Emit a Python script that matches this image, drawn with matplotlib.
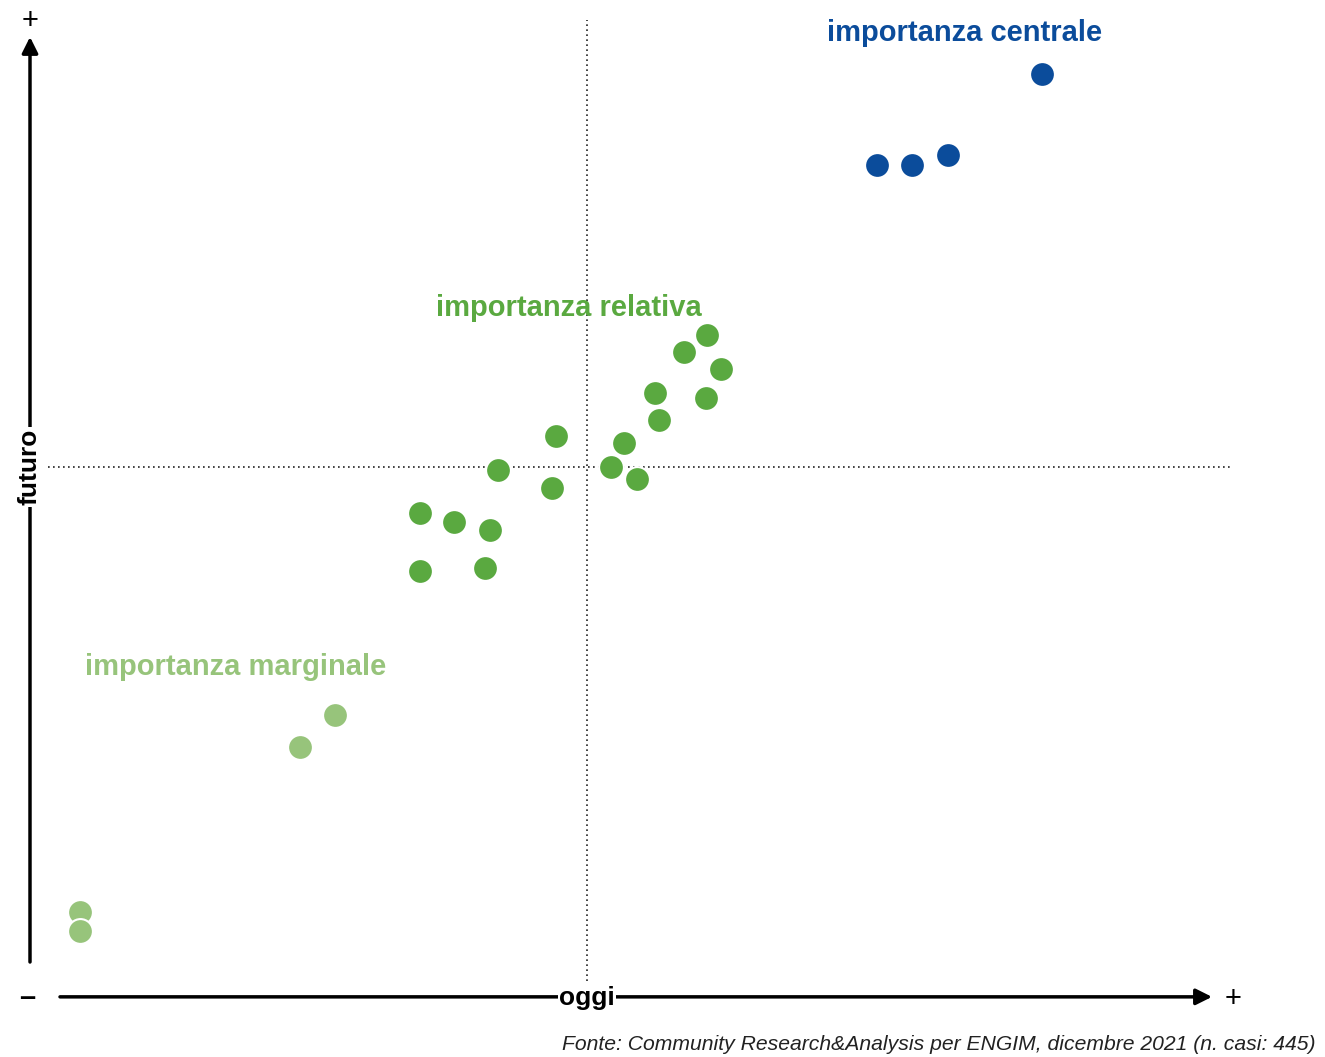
import matplotlib
matplotlib.use("Agg")
import matplotlib.pyplot as plt

plt.rcParams['font.family'] = ['Liberation Sans Narrow', 'Liberation Sans', 'DejaVu Sans']

# punteggi (0-100): oggi = asse x, futuro = asse y
centrale_oggi = [84.3, 70.6, 73.5, 76.5]
centrale_futuro = [94.3, 84.6, 84.6, 85.7]

relativa_oggi = [56.4, 54.5, 57.6, 52.1, 56.3, 52.4, 43.8, 49.5, 39.0, 48.4,
                 50.6, 43.5, 32.5, 35.3, 38.3, 32.5, 37.9]
relativa_futuro = [66.6, 64.8, 62.9, 60.4, 59.9, 57.5, 55.8, 55.1, 52.2, 52.6,
                   51.3, 50.3, 47.7, 46.7, 45.9, 41.5, 41.8]

marginale_oggi = [25.4, 22.5, 4.2, 4.2]
marginale_futuro = [26.2, 22.8, 5.3, 3.3]

media_oggi = 46.4
media_futuro = 52.6

BLU = '#0b4c9b'
VERDE = '#5aa940'
VERDE_CH = '#97c47b'

W, H = 1325, 1057
fig = plt.figure(figsize=(W / 100, H / 100), dpi=100)

def fx(px):
    return px / W

def fy(py):
    return 1 - py / H

# area del grafico: x 30..1230 px, y 20..962 px
ax = fig.add_axes([fx(30), fy(962), fx(1230) - fx(30), fy(20) - fy(962)])
ax.set_xlim(0, 100)
ax.set_ylim(0, 100)
ax.axis('off')

# linee tratteggiate delle medie
ax.axvline(media_oggi, ymin=-0.02, ymax=1, color='#222222', lw=1.2,
           ls=(0, (1, 2)), clip_on=False, zorder=1)
ax.axhline(media_futuro, xmin=0.015, xmax=1, color='#222222', lw=1.2,
           ls=(0, (1, 2)), zorder=1)

kw = dict(s=320, edgecolors='white', linewidths=1.5, zorder=3)
ax.scatter(centrale_oggi, centrale_futuro, color=BLU, **kw)
ax.scatter(relativa_oggi, relativa_futuro, color=VERDE, **kw)
ax.scatter(marginale_oggi, marginale_futuro, color=VERDE_CH, **kw)

# assi con frecce
ax.annotate('', xy=(0, 0.982), xytext=(0, 0), xycoords='axes fraction',
            arrowprops=dict(arrowstyle='-|>', lw=2.5, color='black',
                            mutation_scale=24, shrinkA=0, shrinkB=0))
ax.annotate('', xy=(0.985, -0.037), xytext=(0.025, -0.037),
            xycoords='axes fraction',
            arrowprops=dict(arrowstyle='-|>', lw=2.5, color='black',
                            mutation_scale=24, shrinkA=0, shrinkB=0))

fig.text(fx(30), fy(21), '+', fontsize=21, ha='center', va='center')
fig.text(fx(27), fy(998), '–', fontsize=21, fontweight='bold',
         ha='center', va='center')
fig.text(fx(1233), fy(999), '+', fontsize=21, ha='center', va='center')

fig.text(fx(587), fy(998), 'oggi', fontsize=19, fontweight='bold',
         ha='center', va='center',
         bbox=dict(facecolor='white', edgecolor='none', pad=1))
fig.text(fx(30), fy(467), 'futuro', fontsize=19, fontweight='bold',
         rotation=90, ha='center', va='center',
         bbox=dict(facecolor='white', edgecolor='none', pad=1))

fig.text(fx(965), fy(33), 'importanza centrale', fontsize=21,
         fontweight='bold', color=BLU, ha='center', va='center')
fig.text(fx(569), fy(308), 'importanza relativa', fontsize=21,
         fontweight='bold', color=VERDE, ha='center', va='center')
fig.text(fx(236), fy(667), 'importanza marginale', fontsize=21,
         fontweight='bold', color=VERDE_CH, ha='center', va='center')

fig.text(fx(1316), fy(1044),
         'Fonte: Community Research&Analysis per ENGIM, dicembre 2021 (n. casi: 445)',
         fontsize=15.2, style='italic', color='#222222', ha='right', va='center')

fig.savefig('out.png', dpi=100, facecolor='white')
